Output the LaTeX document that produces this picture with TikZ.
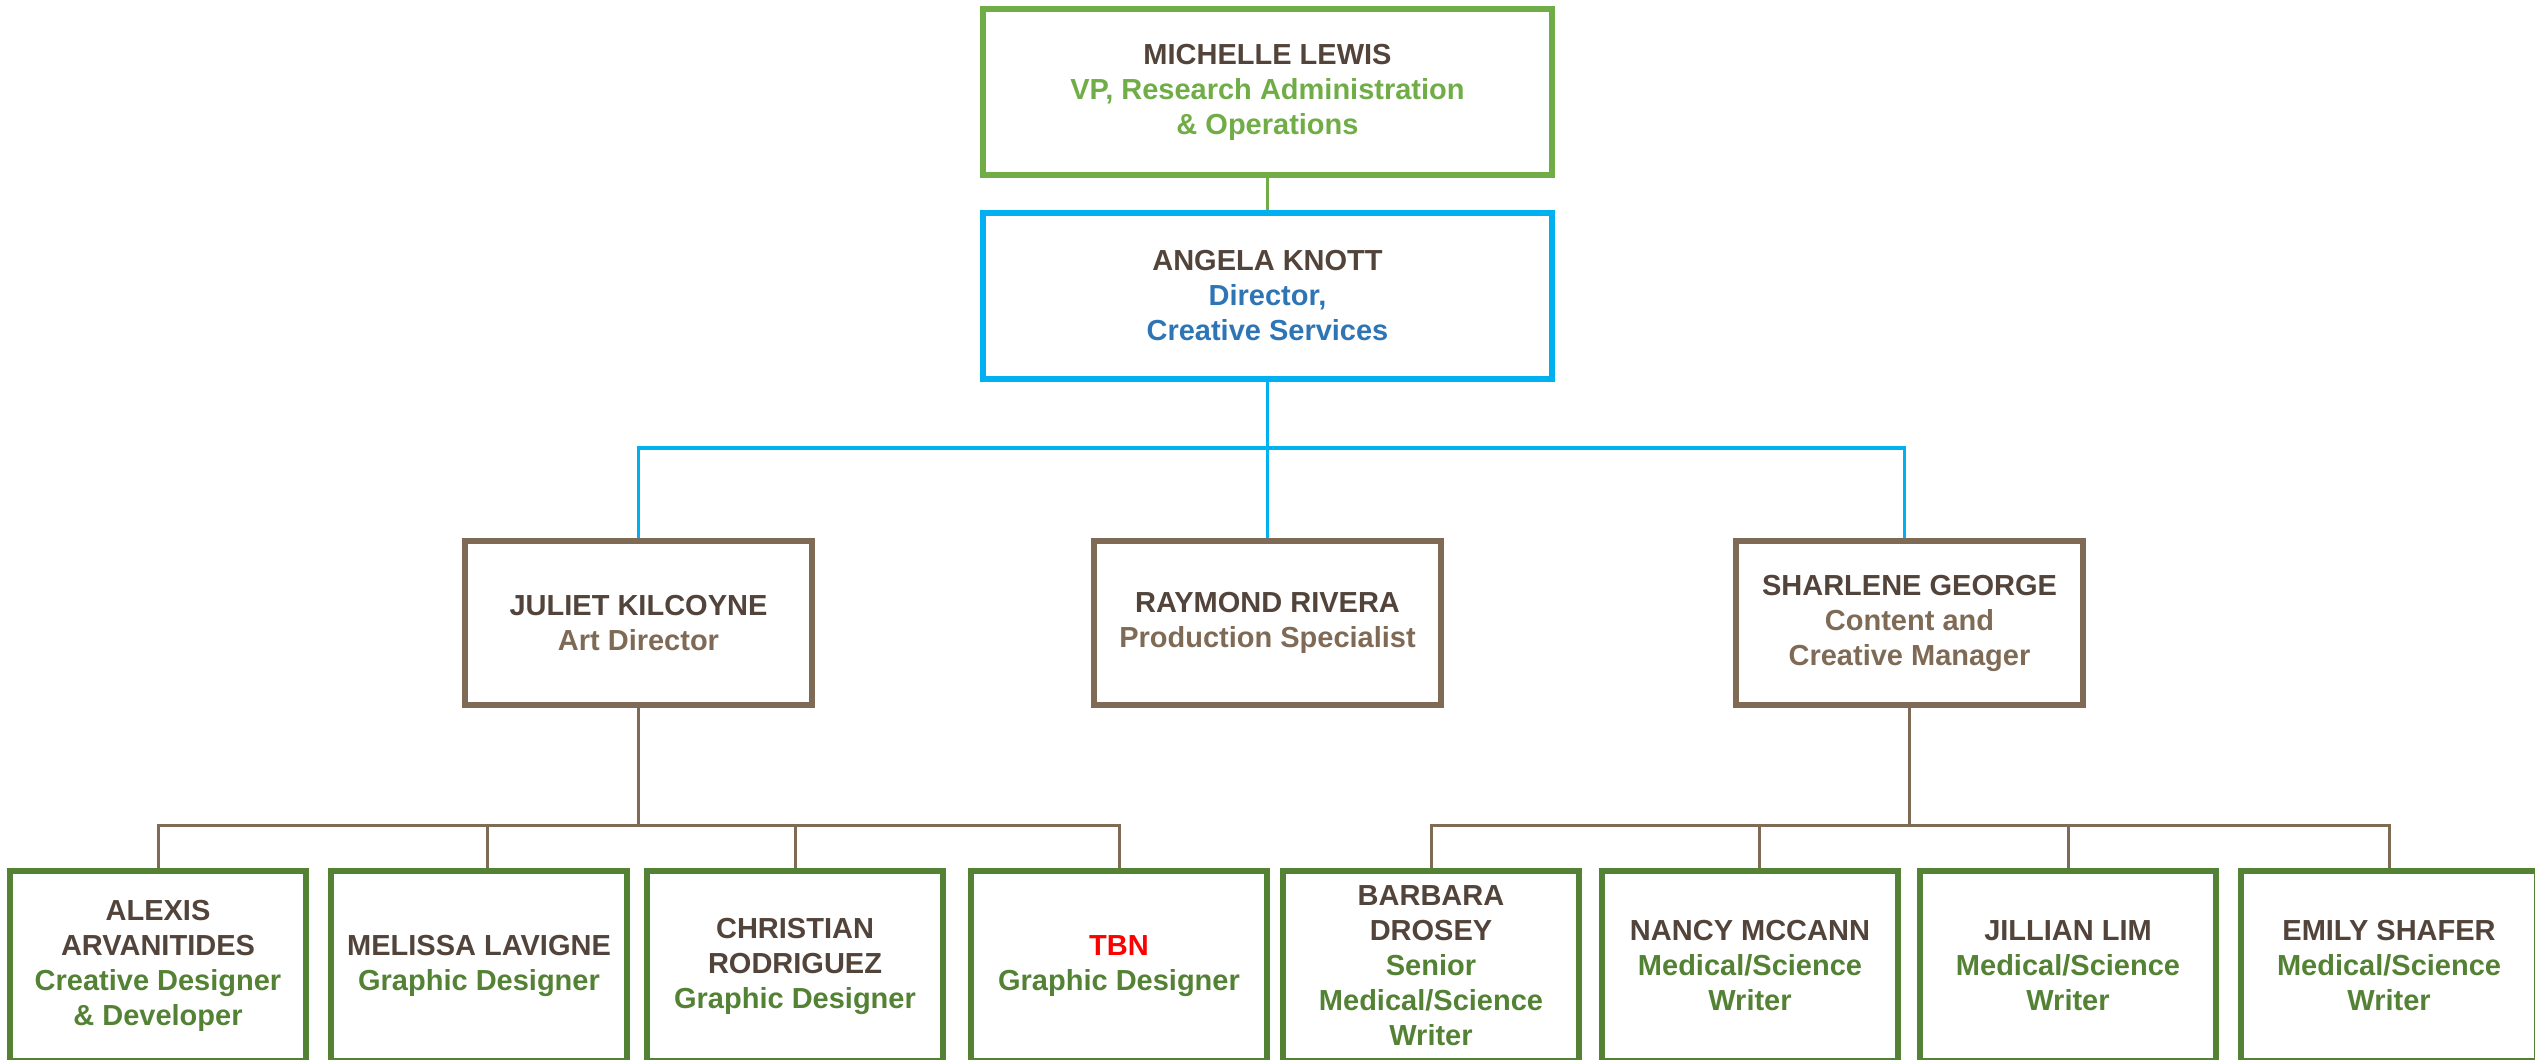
\documentclass[tikz,border=0pt]{standalone}
\usepackage{fontspec}
\setmainfont{Liberation Sans}
\definecolor{namec}{HTML}{52443A}
\definecolor{vpgreen}{HTML}{70AD47}
\definecolor{dircyan}{HTML}{00B0F0}
\definecolor{dirblue}{HTML}{2E75B6}
\definecolor{mgrbrown}{HTML}{7F6A56}
\definecolor{staffgreen}{HTML}{548235}
\definecolor{tbnred}{HTML}{FF0000}
\begin{document}
\begin{tikzpicture}[x=1pt, y=-1pt,
    main/.style = {draw, rectangle, line width=6pt, inner sep=0pt, align=center,
        text=namec, font=\bfseries\fontsize{29}{35}\selectfont},
    jefe/.style = {main, minimum width=569pt, minimum height=166pt},
    lider/.style = {main, draw=mgrbrown, minimum width=347pt, minimum height=164pt},
    staff/.style = {main, draw=staffgreen, minimum width=296pt, minimum height=190pt},
    linea/.style = {line width=3pt, draw=mgrbrown}]
    \path[use as bounding box] (0,0) rectangle (2535,1060);

    % Nivel 1
    \node[jefe, draw=vpgreen] (vp) at (1267.5,92)
        {MICHELLE LEWIS\\\textcolor{vpgreen}{VP, Research Administration}\\\textcolor{vpgreen}{\& Operations}};

    % Nivel 2
    \node[jefe, draw=dircyan] (dir) at (1267.5,295.5)
        {ANGELA KNOTT\\\textcolor{dirblue}{Director,}\\\textcolor{dirblue}{Creative Services}};

    % Nivel 3
    \node[lider] (art) at (638.5,623) {JULIET KILCOYNE\\\textcolor{mgrbrown}{Art Director}};
    \node[lider] (prod) at (1267.5,623) {RAYMOND RIVERA\\\textcolor{mgrbrown}{Production Specialist}};
    \node[lider] (cont) at (1909.5,623)
        {SHARLENE GEORGE\\\textcolor{mgrbrown}{Content and}\\\textcolor{mgrbrown}{Creative Manager}};

    % Nivel 4
    \node[staff] (alexis) at (158,966)
        {ALEXIS\\ARVANITIDES\\\textcolor{staffgreen}{Creative Designer}\\\textcolor{staffgreen}{\& Developer}};
    \node[staff] (melissa) at (479,966) {MELISSA LAVIGNE\\\textcolor{staffgreen}{Graphic Designer}};
    \node[staff] (christian) at (795,966)
        {CHRISTIAN\\RODRIGUEZ\\\textcolor{staffgreen}{Graphic Designer}};
    \node[staff] (tbn) at (1119,966) {\textcolor{tbnred}{TBN}\\\textcolor{staffgreen}{Graphic Designer}};
    \node[staff] (barbara) at (1431,966)
        {BARBARA\\DROSEY\\\textcolor{staffgreen}{Senior}\\\textcolor{staffgreen}{Medical/Science}\\\textcolor{staffgreen}{Writer}};
    \node[staff] (nancy) at (1750,966)
        {NANCY MCCANN\\\textcolor{staffgreen}{Medical/Science}\\\textcolor{staffgreen}{Writer}};
    \node[staff] (jillian) at (2068,966)
        {JILLIAN LIM\\\textcolor{staffgreen}{Medical/Science}\\\textcolor{staffgreen}{Writer}};
    \node[staff] (emily) at (2389,966)
        {EMILY SHAFER\\\textcolor{staffgreen}{Medical/Science}\\\textcolor{staffgreen}{Writer}};

    % Conexiones
    \coordinate (jdir) at (1267.5,448);
    \coordinate (jart) at (638.5,825);
    \coordinate (jcont) at (1909.5,825);
    \draw[line width=3pt, vpgreen] (vp) -- (dir);
    \draw[line width=3.5pt, dircyan] (dir) -- (jdir);
    \draw[line width=3.5pt, dircyan] (jdir) -| (art.north);
    \draw[line width=3.5pt, dircyan] (jdir) -- (prod);
    \draw[line width=3.5pt, dircyan] (jdir) -| ([xshift=-5pt]cont.north);
    \draw[linea] (art) -- (jart);
    \draw[linea] (jart) -| (alexis.north);
    \draw[linea] (jart) -| ([xshift=8pt]melissa.north);
    \draw[linea] (jart) -| (christian.north);
    \draw[linea] (jart) -| (tbn.north);
    \draw[linea] (cont) -- (jcont);
    \draw[linea] (jcont) -| (barbara.north);
    \draw[linea] (jcont) -| ([xshift=9pt]nancy.north);
    \draw[linea] (jcont) -| (jillian.north);
    \draw[linea] (jcont) -| (emily.north);
\end{tikzpicture}
\end{document}
